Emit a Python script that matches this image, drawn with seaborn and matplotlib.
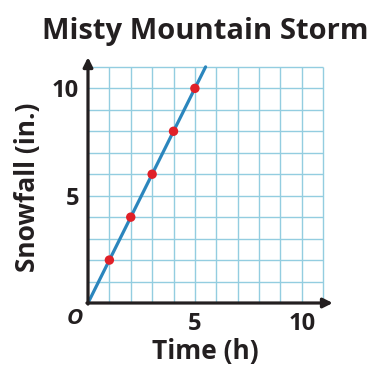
import matplotlib
matplotlib.use("Agg")
import matplotlib.pyplot as plt
import seaborn as sns
import pandas as pd

# data
time_h = [1, 2, 3, 4, 5]
snow_in = [2, 4, 6, 8, 10]
line_time = [0, 5.5]
line_snow = [0, 11]
x_ticklabels = [5, 10]
y_ticklabels = [5, 10]
grid_max = 11

sns.set_theme(style="white")
plt.rcParams['font.family'] = ['Open Sans', 'DejaVu Sans']

W, H = 382, 374
fig = plt.figure(figsize=(W / 100, H / 100), dpi=100)
ax_left, ax_bottom = 88 / W, (H - 303) / H
ax = fig.add_axes([ax_left, ax_bottom, 248 / W, 249 / H])
ax.set_xlim(0, 11.6)
ax.set_ylim(0, 11.6)

grid_c = "#93cde0"
ticks = list(range(1, grid_max + 1))
ax.vlines(ticks, 0, grid_max, color=grid_c, lw=1.0, zorder=1)
ax.hlines(ticks, 0, grid_max, color=grid_c, lw=1.0, zorder=1)

df_line = pd.DataFrame({"t": line_time, "s": line_snow})
df_pts = pd.DataFrame({"t": time_h, "s": snow_in})
sns.lineplot(data=df_line, x="t", y="s", ax=ax, color="#2b86bd", lw=2.3, zorder=3)
sns.scatterplot(data=df_pts, x="t", y="s", ax=ax, color="#e02028", s=46,
                edgecolor="none", zorder=4)

for sp in ax.spines.values():
    sp.set_visible(False)

axis_c = "#231f20"
ax.annotate("", xy=(11.45, 0), xytext=(-0.05, 0),
            arrowprops=dict(arrowstyle="-|>", lw=2.3, color=axis_c,
                            mutation_scale=14, shrinkA=0, shrinkB=0),
            annotation_clip=False, zorder=5)
ax.annotate("", xy=(0, 11.45), xytext=(0, -0.05),
            arrowprops=dict(arrowstyle="-|>", lw=2.3, color=axis_c,
                            mutation_scale=14, shrinkA=0, shrinkB=0),
            annotation_clip=False, zorder=5)

ax.set_xticks(list(range(1, 11)))
ax.set_yticks(list(range(1, 11)))
ax.set_xticklabels([str(v) if v in x_ticklabels else "" for v in range(1, 11)])
ax.set_yticklabels([str(v) if v in y_ticklabels else "" for v in range(1, 11)])
ax.tick_params(axis="both", direction="inout", length=9, width=1.3,
               color=axis_c, labelcolor=axis_c, labelsize=17, pad=2)
for lab in ax.get_xticklabels() + ax.get_yticklabels():
    lab.set_fontweight("bold")

ax.set_xlabel("Time (h)", fontsize=19, fontweight="bold", color=axis_c)
ax.set_ylabel("Snowfall (in.)", fontsize=19, fontweight="bold", color=axis_c)
ax.xaxis.label.set_va("center")
ax.yaxis.label.set_va("center")
ax.xaxis.set_label_coords((205 - 88) / 248, -(352 - 303) / 249)
ax.yaxis.set_label_coords((28 - 88) / 248, (303 - 187) / 249)

ax.text(-0.6, -0.7, "O", fontsize=16, fontweight="bold", fontstyle="italic",
        color=axis_c, ha="center", va="center")

fig.text(205 / W, 1 - 31 / H, "Misty Mountain Storm", fontsize=21,
         fontweight="bold", color=axis_c, ha="center", va="center")

fig.savefig("out.png", dpi=100)
